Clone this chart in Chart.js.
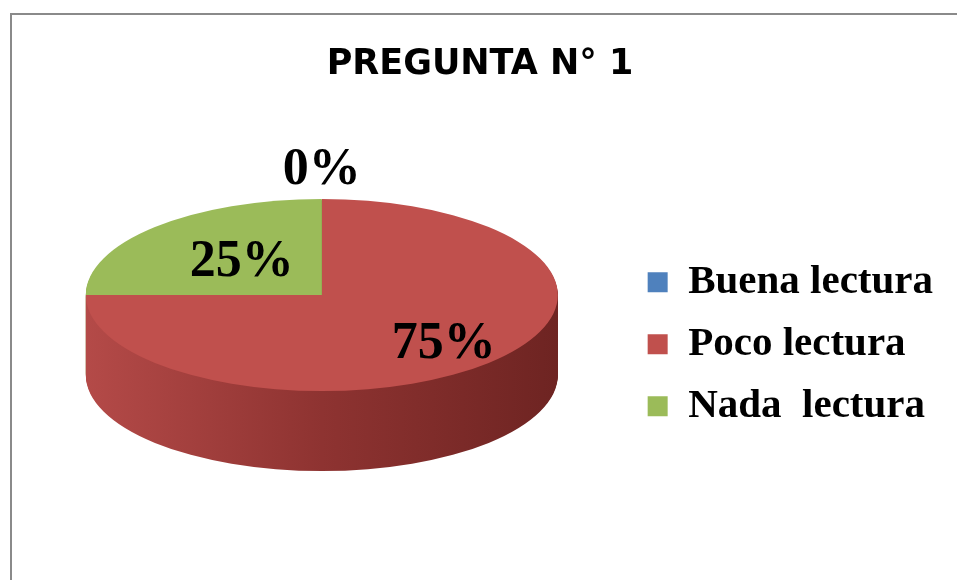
<!DOCTYPE html>
<html><head><meta charset="utf-8">
<script src="https://cdn.jsdelivr.net/npm/chart.js@4/dist/chart.umd.min.js"></script>
<style>html,body{margin:0;padding:0;background:#fff;overflow:hidden}</style>
</head><body>
<canvas id="c" width="957" height="580"></canvas>
<script>
// ---- data ----
const chartTitle = 'PREGUNTA N° 1';
const categories = ['Buena lectura', 'Poco lectura', 'Nada  lectura'];
const values = [0, 75, 25];
const topColors = ['#4f81bd', '#c0504d', '#9bbb59'];
const sideStops = [
  ['#46729f', '#2f5278', '#24405f'],
  ['#b44a48', '#8e3331', '#6e2422'],
  ['#8aa84f', '#6d873a', '#56702c']
];

// ---- frame plugin ----
const framePlugin = {
  id: 'frame',
  beforeDraw(chart) {
    const ctx = chart.ctx;
    ctx.save();
    ctx.fillStyle = '#fff';
    ctx.fillRect(0, 0, chart.width, chart.height);
    ctx.strokeStyle = '#8a8a8a';
    ctx.lineWidth = 2;
    ctx.strokeRect(11, 14, chart.width + 20, chart.height + 20);
    ctx.restore();
  }
};

// ---- 3D pie plugin ----
const pie3d = {
  id: 'pie3d',
  beforeDatasetsDraw(chart, args, opts) {
    const meta = chart.getDatasetMeta(0);
    const arcs = meta.data;
    if (!arcs.length) return;
    const ctx = chart.ctx;
    const cx = arcs[0].x, cy = arcs[0].y, r = arcs[0].outerRadius;
    const k = opts.tilt, depth = opts.depth;
    const topCy = cy - depth / 2;
    const grads = sideStops.map(s => {
      const g = ctx.createLinearGradient(cx - r, 0, cx + r, 0);
      g.addColorStop(0, s[0]);
      g.addColorStop(0.5, s[1]);
      g.addColorStop(1, s[2]);
      return g;
    });
    const drawLayer = (off, fills) => {
      ctx.save();
      ctx.translate(0, topCy + off);
      ctx.scale(1, k);
      ctx.translate(0, -cy);
      arcs.forEach((arc, i) => {
        const saved = arc.options;
        arc.options = Object.assign({}, saved, {backgroundColor: fills ? fills[i] : saved.backgroundColor, borderWidth: 0});
        arc.draw(ctx);
        arc.options = saved;
      });
      ctx.restore();
    };
    for (let d = depth; d >= 1; d--) drawLayer(d, grads);
    drawLayer(0, null);

    // percentage labels
    const total = values.reduce((a, b) => a + b, 0);
    ctx.save();
    ctx.font = opts.labelFont;
    ctx.fillStyle = '#000';
    ctx.textAlign = 'center';
    ctx.textBaseline = 'middle';
    arcs.forEach((arc, i) => {
      const mid = (arc.startAngle + arc.endAngle) / 2;
      const f = opts.labelRadius[i];
      const x = cx + Math.cos(mid) * r * f;
      const y = topCy + Math.sin(mid) * r * f * k;
      ctx.fillText(Math.round(values[i] / total * 100) + '%', x, y);
    });
    ctx.restore();
    return false;
  }
};

new Chart(document.getElementById('c'), {
  type: 'pie',
  data: {
    labels: categories,
    datasets: [{data: values, backgroundColor: topColors, borderWidth: 0, radius: 236}]
  },
  options: {
    responsive: false,
    animation: false,
    layout: {padding: {left: 17, right: 14, top: 0, bottom: 0}},
    plugins: {
      title: {
        display: true, text: chartTitle, color: '#000',
        font: {family: '"DejaVu Sans", sans-serif', weight: 'bold', size: 35},
        padding: {top: 44, bottom: 4}
      },
      legend: {
        position: 'right', align: 'center',
        title: {display: true, text: '', padding: {top: 94, bottom: 0}},
        labels: {
          color: '#000',
          font: {family: '"Liberation Serif", "Times New Roman", serif', weight: 'bold', size: 41},
          boxWidth: 20, boxHeight: 20, padding: 21
        }
      },
      tooltip: {enabled: false},
      pie3d: {
        tilt: 0.407, depth: 80,
        labelRadius: [1.3, 0.73, 0.48],
        labelFont: 'bold 52px "Liberation Serif", "Times New Roman", serif'
      }
    }
  },
  plugins: [framePlugin, pie3d]
});
</script>
</body></html>
